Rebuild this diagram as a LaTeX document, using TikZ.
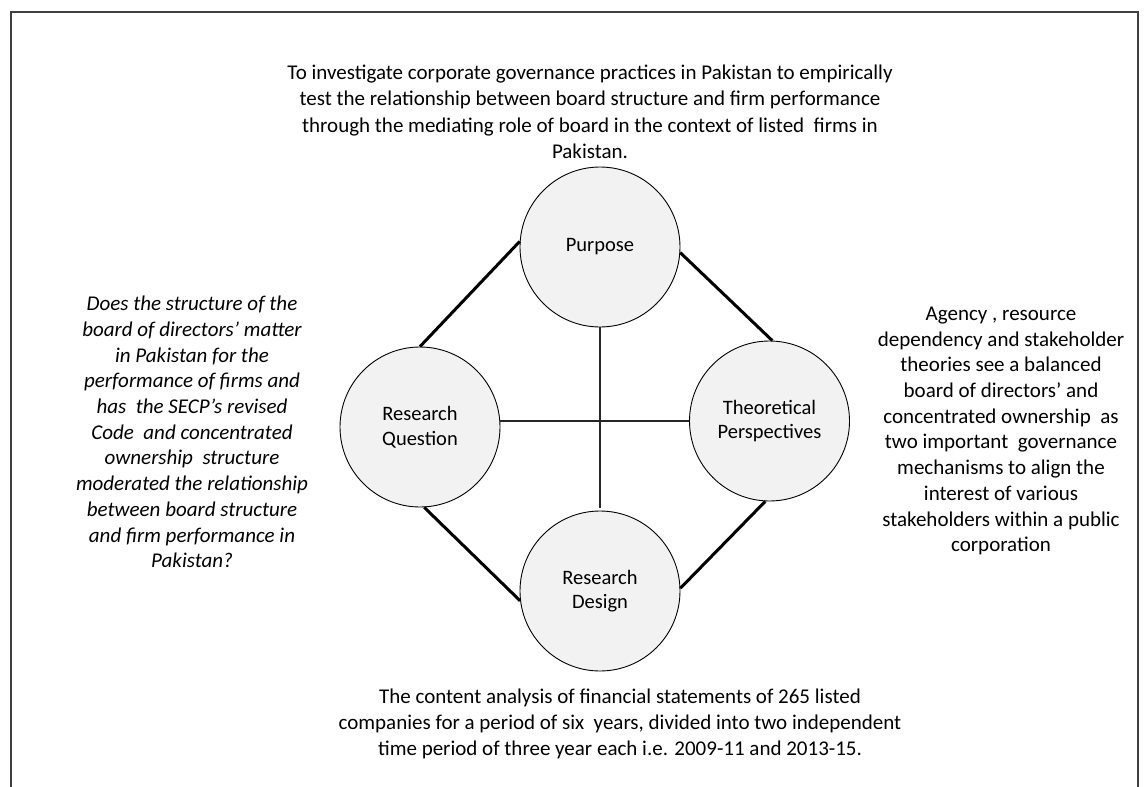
\documentclass[tikz,border=0pt]{standalone}
\usepackage{fontspec}
\setmainfont{Carlito}
\begin{document}
\begin{tikzpicture}[x=1pt,y=-1pt,
  framestyle/.style={draw=black!75,line width=1.5pt},
  hub/.style={circle,draw=black,line width=0.9pt,fill=hubfill,minimum size=160pt,inner sep=0pt,align=center,
    font=\fontsize{20.5}{24.5}\selectfont},
  note/.style={align=center,inner sep=0pt,font=\fontsize{21}{25.7}\selectfont},
  thickedge/.style={line width=3pt,black},
  thinedge/.style={line width=1.2pt,black!85}]
\definecolor{hubfill}{RGB}{242,242,242}
\useasboundingbox (0,0) rectangle (1144,787);
% open frame, running off the lower edge
\draw[framestyle] (11,787) -- (11,12) -- (1138,12) -- (1138,787);

% the four circles
\node[hub] (pur) at (600,247) {Purpose};
\node[hub] (rq)  at (420,427) {Research\\Question};
\node[hub] (tp)  at (769.5,421) {Theoretical\\Perspectives};
\node[hub] (rd)  at (600,591) {Research\\Design};

% outer diamond
\draw[thickedge] (pur.176) -- (rq.north);
\draw[thickedge] (pur.356) -- (tp.88);
\draw[thickedge] (rq.273) -- (rd.187);
\draw[thickedge] (tp.267) -- (rd.2);

% inner cross
\draw[thinedge] (tp.west) -- (tp.west -| rq.east);
\draw[thinedge,shorten >=3pt] (pur.south) -- (rd.north);

% surrounding statements
\node[note,font=\fontsize{21}{26.5}\selectfont] (purtxt) at (590,112) {To investigate corporate governance practices in Pakistan to empirically\\
test the relationship between board structure and firm performance\\
through the mediating role of board in the context of listed\ \ firms in\\
Pakistan.};

\node[note,font=\fontsize{21}{25.7}\selectfont\itshape] (rqtxt) at (192,432) {Does the structure of the\\
board of directors’ matter\\
in Pakistan for the\\
performance of firms and\\
has\ \ the SECP’s revised\\
Code\ \ and concentrated\\
ownership\ \ structure\\
moderated the relationship\\
between board structure\\
and firm performance in\\
Pakistan?};

\node[note] (tptxt) at (1001,431) {Agency , resource\\
dependency and stakeholder\\
theories see a balanced\\
board of directors’ and\\
concentrated ownership\ \ as\\
two important\ \ governance\\
mechanisms to align the\\
interest of various\\
stakeholders within a public\\
corporation};

\node[note] (rdtxt) at (620,724) {The content analysis of financial statements of 265 listed\\
companies for a period of six\ \ years, divided into two independent\\
time period of three year each i.e. 2009-11 and 2013-15.};
\end{tikzpicture}
\end{document}
